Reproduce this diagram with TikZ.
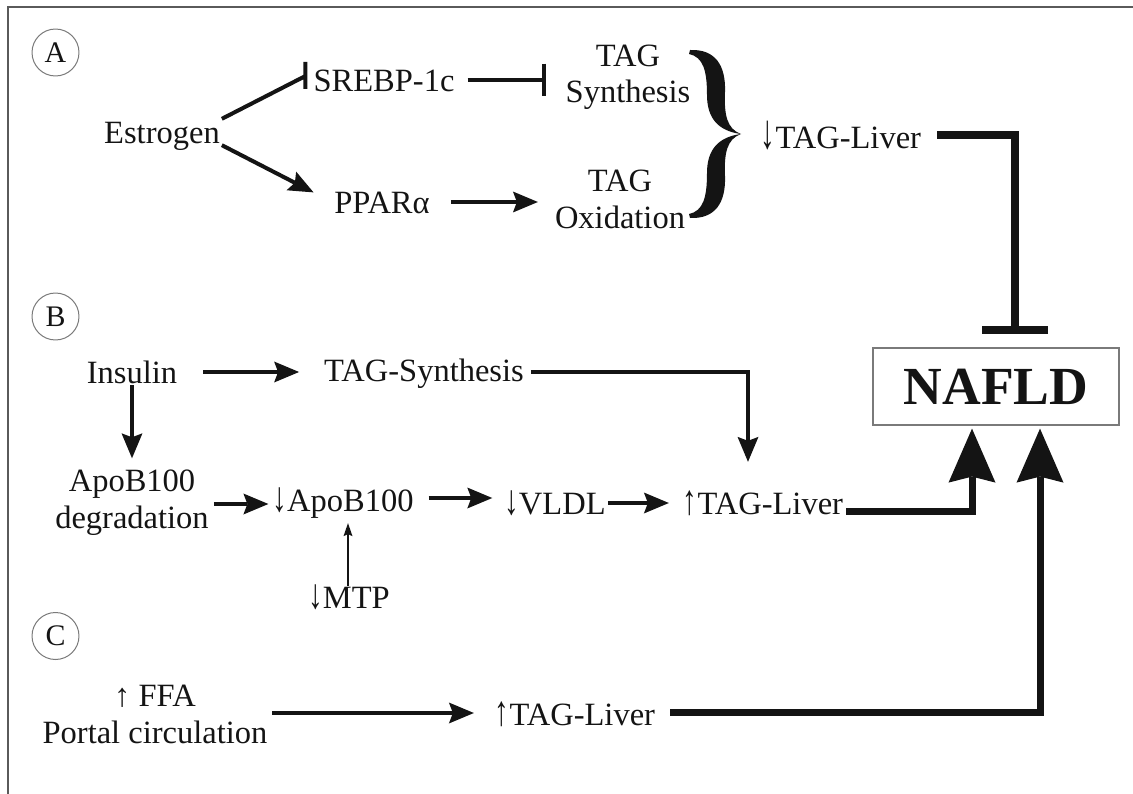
\documentclass[tikz,border=0pt]{standalone}
\usepackage{fontspec}
\setmainfont{Liberation Serif}
\usepackage{xcolor}
\usepackage{graphicx}
\definecolor{frameGray}{HTML}{5A5A5A}
\definecolor{ringGray}{HTML}{7A7A7A}
\definecolor{inkBlack}{HTML}{141414}
\usepackage{tikz}
\usetikzlibrary{
  arrows.meta,
  positioning,
  calc
}
\newcommand{\labelfont}{\fontsize{18.5}{20.5}\selectfont}
\newcommand{\dn}[1][1.3]{\scalebox{0.9}[#1]{↓}}
\newcommand{\up}[1][1.3]{\scalebox{0.9}[#1]{↑}}
\tikzset{
  lbl/.style={inner sep=1pt,font=\labelfont,text=inkBlack,
    text height=12.6pt,text depth=0pt},
  lbltwo/.style={inner sep=1pt,align=center,font=\labelfont,text=inkBlack,
    anchor=base},
  panel/.style={circle,draw=ringGray,line width=0.02cm,minimum size=0.94cm,
    inner sep=0pt,font=\fontsize{17}{17}\selectfont,text=inkBlack},
  result/.style={rectangle,draw=ringGray,line width=0.025cm,
    minimum width=4.92cm,minimum height=1.54cm,inner sep=0pt,
    font=\fontsize{30.5}{34}\selectfont\bfseries,text=inkBlack,
    text height=20.7pt,text depth=0pt},
  arr/.style={-{Stealth[length=0.5cm,width=0.42cm,inset=0.08cm,line width=0pt]},
    line width=0.08cm,draw=inkBlack},
  thinarr/.style={-{Stealth[length=0.26cm,width=0.18cm,inset=0.04cm,line width=0pt]},
    line width=0.03cm,draw=inkBlack},
  bigarr/.style={-{Stealth[length=1.08cm,width=0.94cm,inset=0.12cm,line width=0pt]},
    line width=0.14cm,draw=inkBlack,line join=miter},
  inh/.style={-{Bar[width=0.66cm]},line width=0.08cm,draw=inkBlack},
  biginh/.style={-{Bar[width=1.32cm]},line width=0.16cm,draw=inkBlack,line join=miter},
  barline/.style={line width=0.08cm,draw=inkBlack},
}

\begin{document}
\begin{tikzpicture}[x=0.02cm,y=-0.02cm]
\useasboundingbox (0,0) rectangle (1133,794);
\draw[frameGray,line width=0.03cm] (8,794) -- (8,7) -- (1133,7);

% panel A
\node[panel] (pA) at (55.5,52.5) {A};
\node[lbl] (est)   at (162,132) {Estrogen};
\node[lbl] (srebp) at (384,80)  {SREBP-1c};
\node[lbl] (ppar)  at (382,202) {PPARα};
\node[lbltwo] (tsyn) at (628,103) {TAG\\Synthesis};
\node[lbltwo] (tox)  at (620,228) {TAG\\Oxidation};
\node[lbl] (tlA)   at (841,137) {\dn[1.5]TAG-Liver};
\node[result] (nafld) at (996,386.5) {NAFLD};

\draw[barline] (est.north east) -- ($(srebp.west)+(-6,-4)$) ++(0,-14) -- ++(0,27);
\draw[inh,shorten <=0.22cm] (srebp.east) -- ($(srebp.east -| tsyn.west)+(-18,0)$);
\draw[arr,shorten >=0.42cm] (est.south east) -- (ppar.west);
\draw[arr,shorten <=0.38cm,shorten >=0.3cm] (ppar.east) -- (ppar.east -| tox.west);
\fill[inkBlack] (690,50) .. controls (715,49) and (726,65) .. (725,92)
  .. controls (724,115) and (727,129) .. (741,134)
  .. controls (727,139) and (724,153) .. (725,176)
  .. controls (726,203) and (715,219) .. (690,218)
  -- (689,214)
  .. controls (703,211) and (707,198) .. (707,173)
  .. controls (707,150) and (718,137) .. (741,134)
  .. controls (718,131) and (707,118) .. (707,95)
  .. controls (707,70) and (703,57) .. (689,54) -- cycle;
\draw[biginh] ($(tlA.east)+(14,-2)$) -| ($(nafld.north)+(19,-13)$);

% panel B
\node[panel] (pB) at (55.5,316.5) {B};
\node[lbl] (ins)  at (132,372) {Insulin};
\node[lbl] (tsB)  at (424,370) {TAG-Synthesis};
\node[lbltwo] (apodeg) at (132,528) {ApoB100\\degradation};
\node[lbl] (apo)  at (343,500) {\dn ApoB100};
\node[lbl] (mtp)  at (349,597) {\dn MTP};
\node[lbl] (vldl) at (555,503) {\dn VLDL};
\node[lbl] (tlB)  at (763,503) {\up TAG-Liver};

\draw[arr,shorten <=0.48cm,shorten >=0.46cm] (ins.east) -- (ins.east -| tsB.west);
\draw[arr,shorten >=0.2cm] (ins.south) -- (ins.south |- apodeg.north);
\draw[arr] ($(apodeg.east |- apo.west)+(3,4)$) -- ($(apo.west)+(-2,4)$);
\draw[thinarr] ($(mtp.north)+(-1,2)$) -- ($(mtp.north |- apo.south)+(-1,10)$);
\draw[arr,shorten <=0.26cm,shorten >=0.2cm] ($(apo.east)+(0,-2)$) -- ($(apo.east -| vldl.west)+(0,-2)$);
\draw[arr,shorten >=0.24cm] (vldl.east) -- (vldl.east -| tlB.west);
\draw[arr,shorten <=0.1cm] ($(tsB.east)+(0,2)$) -| ($(tlB.north)+(-15,-28)$);
\draw[bigarr] ($(tlB.east)+(1,8)$) -| ($(nafld.south)+(-24,3)$);

% panel C
\node[panel] (pC) at (55.5,636) {C};
\node[lbltwo] (ffa) at (155,743) {↑ FFA\\Portal circulation};
\node[lbl] (tlC) at (575,714) {\up TAG-Liver};

\draw[arr] ($(tlC.west -| ffa.east)+(3,-1)$) -- ($(tlC.west)+(-19,-1)$);
\draw[bigarr] ($(tlC.east)+(13,-2)$) -| ($(nafld.south)+(44,3)$);
\end{tikzpicture}
\end{document}
